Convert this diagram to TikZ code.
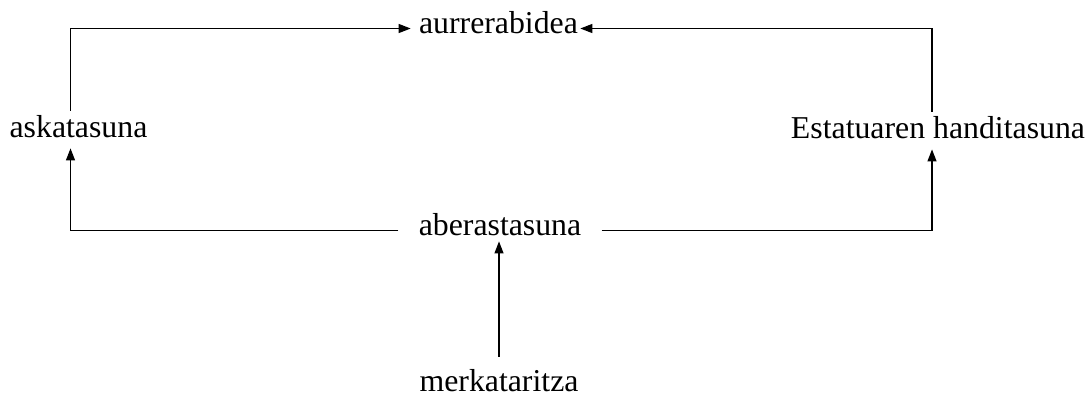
\documentclass[tikz,border=0pt]{standalone}
\usepackage{fontspec}
\setmainfont{Liberation Serif}
\usetikzlibrary{arrows.meta}
\tikzset{
	lbl/.style={anchor=base, inner xsep=4pt, inner ysep=3pt, text height=0.7em, text depth=0.25em, font=\fontsize{15.9}{19}\selectfont},
	link/.style={draw=black, line width=0.6pt, -{Triangle[length=6pt,width=4.5pt]}}
}
\begin{document}
\begin{tikzpicture}[x=0.5pt, y=-0.5pt]
			\useasboundingbox (0,0) rectangle (1090,397);
			%Labels:
			\path
				(498.5, 33) node[lbl] (aurr) {aurrerabidea}
				(78.5, 137) node[lbl] (aska) {askatasuna}
				(938, 138) node[lbl] (estat) {Estatuaren handitasuna}
				(500, 235) node[lbl] (aber) {aberastasuna}
				(499, 391) node[lbl, text depth=0pt, inner ysep=0pt] (merk) {merkataritza};
			%Links:
			\draw[link] ([xshift=-4pt, yshift=3pt]aska.north) |- (aurr.west);
			\draw[link] ([xshift=-3pt, yshift=3pt]estat.north) |- ([xshift=-3pt]aurr.east);
			\draw[link] ([xshift=-6pt]aber.west) -| ([xshift=-4pt]aska.south);
			\draw[link] ([xshift=6pt]aber.east) -| ([xshift=-3pt]estat.south);
			\draw[link] ([yshift=10pt]merk.north) -- ([yshift=2.5pt]merk.north |- aber.south);
\end{tikzpicture}
\end{document}
